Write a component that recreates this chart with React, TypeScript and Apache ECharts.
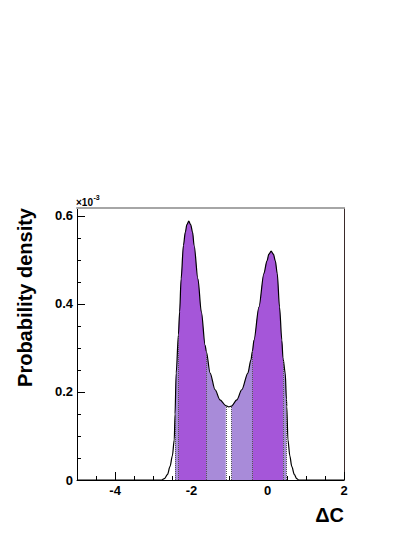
import { useEffect, useRef } from "react";
import * as echarts from "echarts";

// Probability density (in units of 1e-3) traced along ΔC
const curveX = [-5, -2.78, -2.71, -2.63, -2.56, -2.5, -2.45, -2.43, -2.4, -2.34, -2.31, -2.27, -2.21, -2.16, -2.12, -2.07, -2.02, -1.97, -1.93, -1.83, -1.74, -1.64, -1.61, -1.51, -1.38, -1.25, -1.1, -1.02, -0.95, -0.81, -0.68, -0.52, -0.44, -0.4, -0.36, -0.23, -0.1, -0.02, 0.03, 0.09, 0.15, 0.2, 0.25, 0.31, 0.37, 0.4, 0.46, 0.49, 0.5, 0.53, 0.58, 0.63, 0.7, 0.76, 0.82, 2];
const curveY = [0, 0, 0.003, 0.012, 0.031, 0.055, 0.091, 0.15, 0.243, 0.331, 0.382, 0.457, 0.533, 0.563, 0.58, 0.588, 0.58, 0.563, 0.533, 0.457, 0.382, 0.306, 0.292, 0.243, 0.205, 0.182, 0.169, 0.166, 0.168, 0.182, 0.205, 0.243, 0.273, 0.293, 0.318, 0.393, 0.469, 0.498, 0.513, 0.52, 0.513, 0.498, 0.469, 0.393, 0.318, 0.277, 0.243, 0.184, 0.167, 0.091, 0.055, 0.031, 0.012, 0.003, 0, 0];

const lightBands = [[-2.43, -1.1], [-0.95, 0.49]];
const darkBands = [[-2.34, -1.61], [-0.4, 0.4]];

const xMajorTicks = [-4, -2, 0, 2];
const xMinorTicks = [-4.5, -3.5, -3, -2.5, -1.5, -1, -0.5, 0.5, 1, 1.5];
const yMajorTicks = [0, 0.2, 0.4, 0.6];
const yMinorTicks = [0.05, 0.1, 0.15, 0.25, 0.3, 0.35, 0.45, 0.5, 0.55];

const X_MIN = -5;
const X_MAX = 2;
const Y_MAX = 0.618;

const FONT = "Liberation Sans, Arial, Helvetica, sans-serif";
const DARK = "#a556d9";
const LIGHT = "#a88bd9";

export default function App() {
  const ref = useRef<HTMLDivElement>(null);

  useEffect(() => {
    if (!ref.current) return;
    const chart = echarts.init(ref.current, undefined, { renderer: "svg" });

    const points = curveX.map((x, i) => [x, curveY[i]]);
    const slice = (a: number, b: number) =>
      points.filter((p) => p[0] >= a - 1e-9 && p[0] <= b + 1e-9);
    const yAt = (b: number) => curveY[curveX.indexOf(b)];
    const bounds = [...lightBands.flat(), ...darkBands.flat()];

    const bandSeries = (bands: number[][], color: string) =>
      bands.map((b) => ({
        type: "line",
        data: slice(b[0], b[1]),
        smooth: 0.3,
        smoothMonotone: "x",
        showSymbol: false,
        symbol: "none",
        lineStyle: { width: 0, opacity: 0 },
        areaStyle: { color, opacity: 1 },
        silent: true,
        z: 2,
      }));

    const baseX = {
      type: "value",
      min: X_MIN,
      max: X_MAX,
      splitLine: { show: false },
    };
    const baseY = {
      type: "value",
      min: 0,
      max: Y_MAX,
      splitLine: { show: false },
    };

    chart.setOption({
      animation: false,
      grid: { left: 77, right: 69, top: 208, bottom: 55, containLabel: false },
      xAxis: [
        {
          ...baseX,
          position: "bottom",
          axisLine: { show: true, onZero: false, lineStyle: { color: "#000", width: 1 } },
          axisTick: {
            show: true,
            inside: true,
            length: 8,
            customValues: xMajorTicks,
            lineStyle: { color: "#000", width: 1 },
          },
          axisLabel: {
            show: true,
            customValues: xMajorTicks,
            color: "#000",
            fontSize: 13,
            fontWeight: "bold",
            fontFamily: FONT,
            margin: 4,
          },
        },
        {
          ...baseX,
          position: "bottom",
          axisLine: { show: false, onZero: false },
          axisTick: {
            show: true,
            inside: true,
            length: 4,
            customValues: xMinorTicks,
            lineStyle: { color: "#000", width: 1 },
          },
          axisLabel: { show: false },
        },
        {
          ...baseX,
          position: "top",
          axisLine: { show: true, onZero: false, lineStyle: { color: "#a6a6a6", width: 2 } },
          axisTick: { show: false },
          axisLabel: { show: false },
        },
      ],
      yAxis: [
        {
          ...baseY,
          position: "left",
          axisLine: { show: true, onZero: false, lineStyle: { color: "#000", width: 1 } },
          axisTick: {
            show: true,
            inside: true,
            length: 8,
            customValues: yMajorTicks,
            lineStyle: { color: "#000", width: 1 },
          },
          axisLabel: {
            show: true,
            customValues: yMajorTicks,
            color: "#000",
            fontSize: 13,
            fontWeight: "bold",
            fontFamily: FONT,
            margin: 4,
            formatter: (v: number) => (v === 0 ? "0" : String(Math.round(v * 10) / 10)),
          },
        },
        {
          ...baseY,
          position: "left",
          axisLine: { show: false, onZero: false },
          axisTick: {
            show: true,
            inside: true,
            length: 4,
            customValues: yMinorTicks,
            lineStyle: { color: "#000", width: 1 },
          },
          axisLabel: { show: false },
        },
        {
          ...baseY,
          position: "right",
          axisLine: { show: true, onZero: false, lineStyle: { color: "#3a2a2a", width: 1 } },
          axisTick: { show: false },
          axisLabel: { show: false },
        },
      ],
      series: [
        ...bandSeries(lightBands, LIGHT),
        ...bandSeries(darkBands, DARK),
        {
          type: "line",
          data: points,
          smooth: 0.3,
          smoothMonotone: "x",
          showSymbol: false,
          symbol: "none",
          lineStyle: { color: "#000", width: 1.2 },
          z: 4,
          markLine: {
            silent: true,
            symbol: "none",
            label: { show: false },
            lineStyle: { type: "dotted", color: "#555", width: 1 },
            data: bounds.map((b) => [
              { coord: [b, 0] },
              { coord: [b, yAt(b)] },
            ]),
          },
        },
      ],
      graphic: [
        {
          type: "text",
          x: 25,
          y: 208,
          rotation: Math.PI / 2,
          style: {
            text: "Probability density",
            fontSize: 20,
            fontWeight: "bold",
            fontFamily: FONT,
            fill: "#000",
            align: "right",
            verticalAlign: "middle",
          },
        },
        {
          type: "text",
          x: 344,
          y: 515,
          style: {
            text: "ΔC",
            fontSize: 20,
            fontWeight: "bold",
            fontFamily: FONT,
            fill: "#000",
            align: "right",
            verticalAlign: "middle",
          },
        },
        {
          type: "text",
          x: 76,
          y: 207,
          style: {
            text: "×10",
            fontSize: 10,
            fontWeight: "bold",
            fontFamily: FONT,
            fill: "#000",
            align: "left",
            verticalAlign: "bottom",
          },
        },
        {
          type: "text",
          x: 93.5,
          y: 201,
          style: {
            text: "-3",
            fontSize: 7,
            fontWeight: "bold",
            fontFamily: FONT,
            fill: "#000",
            align: "left",
            verticalAlign: "bottom",
          },
        },
      ],
    });

    return () => chart.dispose();
  }, []);

  return (
    <div
      ref={ref}
      style={{ position: "fixed", left: 0, top: 0, width: 413, height: 535, background: "#fff" }}
    />
  );
}
